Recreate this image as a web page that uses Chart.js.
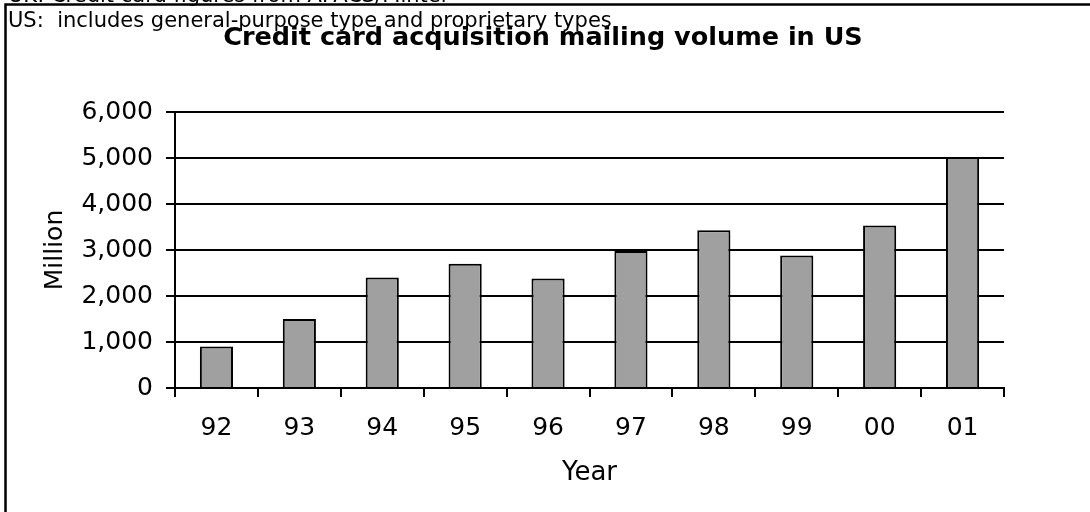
<!DOCTYPE html>
<html>
<head>
<meta charset="utf-8">
<script src="https://cdn.jsdelivr.net/npm/chart.js@4/dist/chart.umd.min.js"></script>
<style>
  html, body { margin: 0; padding: 0; background: #ffffff; }
  #wrap { width: 1090px; height: 512px; position: relative; }
</style>
</head>
<body>
<div id="wrap"><canvas id="c" width="1090" height="512"></canvas></div>
<script>
const years = ['92', '93', '94', '95', '96', '97', '98', '99', '00', '01'];
const mailingVolume = [900, 1500, 2400, 2700, 2380, 2980, 3430, 2880, 3530, 5020];
const yTickValues = [0, 1000, 2000, 3000, 4000, 5000, 6000];
const chartTitle = 'Credit card acquisition mailing volume in US';
const noteLines = ['UK: Credit card figures from APACS/Mintel', 'US:  includes general-purpose type and proprietary types'];
const yAxisTitle = 'Million';
const xAxisTitle = 'Year';

const FONT = "'DejaVu Sans', Verdana, sans-serif";

const decorPlugin = {
  id: 'decor',
  afterDraw(chart) {
    const ctx = chart.ctx;
    ctx.save();
    // frame
    ctx.strokeStyle = '#000';
    ctx.lineWidth = 2.5;
    ctx.beginPath();
    ctx.moveTo(5.5, 512);
    ctx.lineTo(5.5, 4.5);
    ctx.lineTo(1090, 4.5);
    ctx.stroke();
    // notes
    ctx.fillStyle = '#000';
    ctx.textAlign = 'left';
    ctx.textBaseline = 'alphabetic';
    ctx.font = '21px ' + FONT;
    ctx.fillText(noteLines[0], 8, 2);
    ctx.fillText(noteLines[1], 8, 26.5);
    // title
    ctx.font = 'bold 25.5px ' + FONT;
    ctx.textAlign = 'center';
    ctx.fillText(chartTitle, 543, 45);
    ctx.restore();
  }
};

new Chart(document.getElementById('c'), {
  type: 'bar',
  data: {
    labels: years,
    datasets: [{
      data: mailingVolume,
      backgroundColor: '#a0a0a0',
      borderColor: '#000000',
      borderWidth: 2,
      barPercentage: 0.4,
      categoryPercentage: 1.0
    }]
  },
  options: {
    responsive: false,
    animation: false,
    devicePixelRatio: 1,
    layout: { padding: { top: 112, right: 86, bottom: 0, left: 0 } },
    plugins: {
      legend: { display: false },
      tooltip: { enabled: false },
      title: { display: false }
    },
    scales: {
      x: {
        offset: true,
        grid: {
          display: true,
          offset: true,
          drawOnChartArea: false,
          drawTicks: true,
          tickLength: 9,
          color: '#000',
          lineWidth: 2
        },
        border: { display: true, color: '#000', width: 2 },
        ticks: {
          color: '#000',
          font: { family: FONT, size: 25 },
          padding: 16,
          maxRotation: 0,
          autoSkip: false
        },
        title: {
          display: true,
          text: xAxisTitle,
          color: '#000',
          font: { family: FONT, size: 26 },
          padding: { top: 0, bottom: 23 }
        },
        afterFit(scale) {
          scale.height = 124;
          scale.paddingLeft = 0;
          scale.paddingRight = 0;
        }
      },
      y: {
        min: 0,
        max: 6000,
        afterBuildTicks(scale) {
          scale.ticks = yTickValues.map(v => ({ value: v }));
        },
        grid: {
          display: true,
          drawOnChartArea: true,
          drawTicks: true,
          tickLength: 9,
          color: '#000',
          lineWidth: 2
        },
        border: { display: true, color: '#000', width: 2 },
        ticks: {
          color: '#000',
          font: { family: FONT, size: 25 },
          padding: 13,
          callback: v => Number(v).toLocaleString('en-US')
        },
        title: {
          display: true,
          text: yAxisTitle,
          color: '#000',
          font: { family: FONT, size: 25 },
          padding: { top: 40, bottom: 0 }
        },
        afterFit(scale) {
          scale.width = 175;
          scale.paddingTop = 0;
          scale.paddingBottom = 0;
        }
      }
    }
  },
  plugins: [decorPlugin]
});
</script>
</body>
</html>
